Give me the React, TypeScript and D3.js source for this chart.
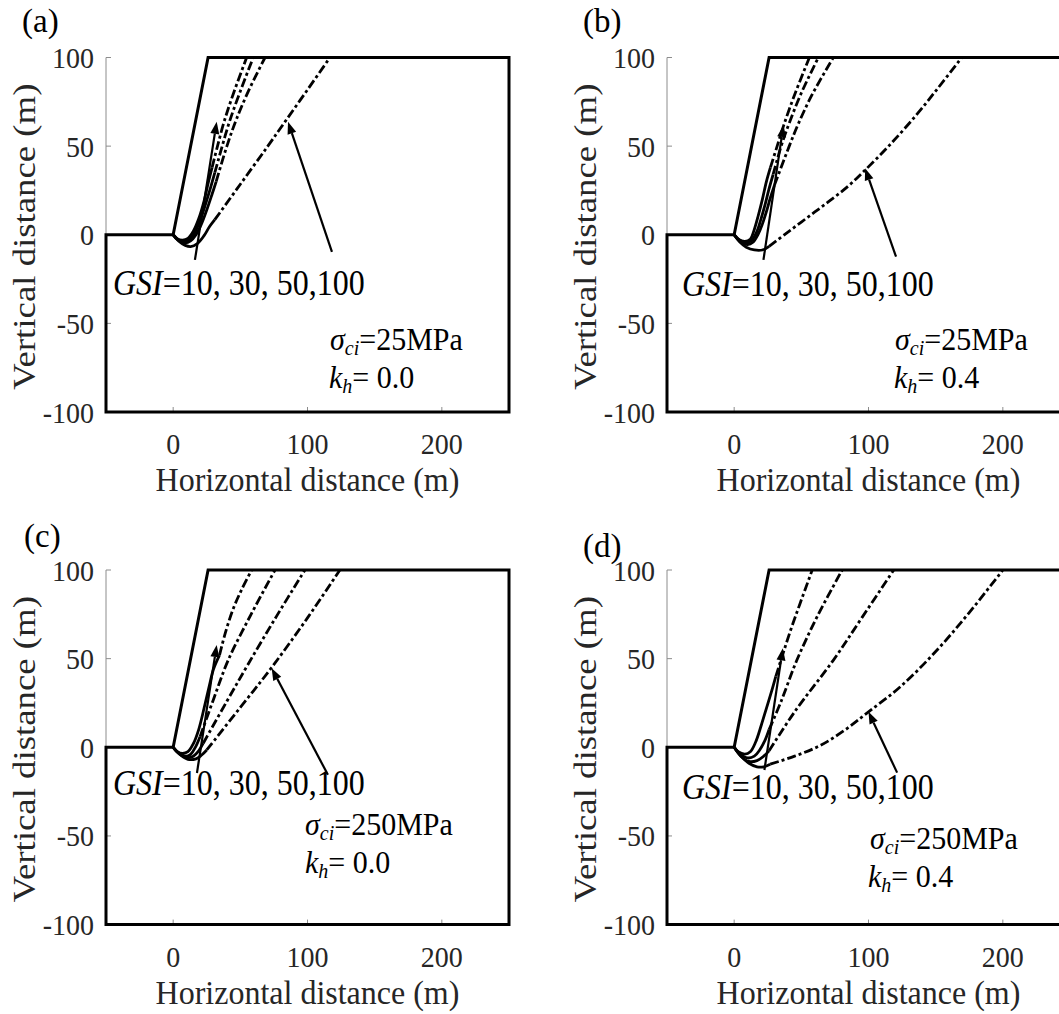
import React from 'react';
import * as d3 from 'd3';

const W = 1059, H = 1014;
const xTicks = [0, 100, 200];
const yTicks = [-100, -50, 0, 50, 100];
const xDomain = [-50, 250];
const yDomain = [-100, 100];
const gsiValues = [10, 30, 50, 100];
const panelLabels = ['(a)', '(b)', '(c)', '(d)'];
const sigmaCi = [25, 25, 250, 250];
const khValues = ['0.0', '0.4', '0.0', '0.4'];
const groundProfile: [number, number][] = [[-50, -100], [-50, 0], [0, 0], [26, 100], [250, 100], [250, -100]];

// failure surfaces for GSI = 10, 30, 50, 100: solid lower part and dash-dot upper part
const solidA = [
  [[0, 0], [3, -2.2], [7, -3], [11, -2], [15, 2], [19, 9], [23, 19], [26, 29], [29, 38]],
  [[0, 0], [3, -2.6], [8, -3.8], [12, -2.8], [16, 1], [20, 8], [24, 17], [28, 27], [31, 35]],
  [[0, 0], [4, -3], [9, -4.6], [13, -3.5], [17, 0], [21, 6], [25, 14], [29, 23], [32, 30]],
  [[0, 0], [4, -3.5], [9, -6], [13, -6.7], [18, -5], [23, -0.5], [27, 4.5], [31, 8.5]],
];
const dashA = [
  [[29, 38], [33, 50], [38, 64], [45, 80], [54.7, 100]],
  [[31, 35], [36.5, 50], [42, 64], [50, 81], [59.6, 100]],
  [[32, 30], [40, 50], [47, 65], [56, 81], [68.4, 100]],
  [[31, 8.5], [50, 28.5], [70, 49.5], [83.3, 63.8], [100, 81.8], [116.7, 100]],
];
const solidB = [
  [[0, 0], [3, -2.5], [8, -3.8], [12, -2.5], [15, 3], [18, 11], [21, 20], [24, 30], [27, 38]],
  [[0, 0], [4, -3], [9, -4.5], [13, -3.2], [17, 2], [20, 9], [23, 17], [26, 26], [29, 34]],
  [[0, 0], [4, -3.3], [10, -5.5], [14, -4.2], [18, 0.5], [21, 6], [24, 13], [27, 21], [30, 28]],
  [[0, 0], [4, -4], [9, -7], [15, -8.6], [21, -8.6], [26, -6.5]],
];
const dashB = [
  [[27, 38], [32, 50], [37, 62], [45, 79], [56, 100]],
  [[29, 34], [35, 50], [41, 63], [50, 80], [62.7, 100]],
  [[30, 28], [41, 50], [48, 63], [58, 79], [73.8, 100]],
  [[26, -6.5], [40, 1.5], [55, 10], [70, 18.5], [85, 27.5], [97.5, 36.5], [115, 50], [135, 67], [152, 83], [169.4, 100]],
];
const solidC = [
  [[0, 0], [3, -2.5], [7, -3.5], [11, -2.5], [15, 2], [19, 10], [23, 22], [27, 35], [30, 44], [34.5, 52]],
  [[0, 0], [4, -3], [9, -5], [13, -4], [16.5, 0], [20, 6]],
  [[0, 0], [4, -3.3], [10, -5.8], [15, -5], [19, -2], [22.4, 2.3]],
  [[0, 0], [5, -4], [11, -6.8], [17, -6.5], [21, -4.5], [25, -1.5]],
];
const dashC = [
  [[34.5, 52], [39, 65], [44.8, 78.3], [51, 89], [58.4, 100]],
  [[20, 6], [30, 27], [41, 49.2], [58, 75], [75.8, 100]],
  [[22.4, 2.3], [40, 26], [55.9, 47], [77, 74], [98.1, 100]],
  [[25, -1.5], [50, 22.5], [73.3, 45], [100, 73], [124.1, 100]],
];
const solidD = [
  [[0, 0], [3, -2.5], [8, -3.8], [12, -2.5], [16, 3], [20, 12], [24, 22], [28, 32], [31, 40]],
  [[0, 0], [4, -3.5], [10, -6], [15, -5], [19, -1.5], [23, 4], [26, 10]],
  [[0, 0], [5, -5], [11, -8], [17, -7.5], [22, -5], [26, -2]],
  [[0, 0], [5, -5], [11, -9], [17, -11], [22, -11], [26.8, -9.5]],
];
const dashD = [
  [[31, 40], [36, 52], [42, 66], [49, 81], [58.1, 100]],
  [[26, 10], [35, 26], [46.7, 49.2], [62, 74], [80.4, 100]],
  [[26, -2], [45, 20], [73.9, 49.2], [95, 73], [118.8, 100]],
  [[26.8, -9.5], [45, -5], [64, 1], [82, 9.5], [100, 20], [123.5, 34], [150, 54], [175, 76], [200, 100]],
];
// annotation arrows: [tailX, tailY, tipX, tipY] in data units
const arrowsA = [[16.2, -14.2, 32.4, 63.7], [118.2, -9.7, 85.5, 63.7]];
const arrowsB = [[21.8, -14.2, 36.7, 61.9], [120.5, -12.4, 97.5, 37.5]];
const arrowsC = [[17.7, -14.5, 32.4, 57.7], [115.2, -15.5, 73.3, 44.6]];
const arrowsD = [[22.5, -12.8, 36.2, 55.8], [121.3, -14.3, 100, 20]];

const solids = [solidA, solidB, solidC, solidD];
const dashes = [dashA, dashB, dashC, dashD];
const arrows = [arrowsA, arrowsB, arrowsC, arrowsD];

const FONT = "'Liberation Serif', 'Times New Roman', Times, serif";

const layouts = [
  { left: 106, top: 57.5, bottom: 412, lab: [22, 32], gsi: [7, 237.5], sig: [224, 292], kh: [223, 330] },
  { left: 667, top: 57.5, bottom: 412, lab: [583, 32], gsi: [15, 238.5], sig: [228, 292], kh: [227, 330] },
  { left: 106, top: 570, bottom: 924.6, lab: [24, 547], gsi: [7, 225], sig: [199, 265], kh: [199, 303] },
  { left: 667, top: 570, bottom: 924.6, lab: [583, 557], gsi: [15, 229], sig: [203, 279], kh: [201, 317] },
];
const PANEL_W = 403;

function T({ x, y, size, anchor = 'start', k = 1.12, fill = '#000', rotate = 0, children }: any) {
  const tr = rotate ? `translate(${x},${y}) rotate(${rotate}) scale(${k},1)` : `translate(${x},${y}) scale(1,${k})`;
  return (
    <text transform={tr} fontSize={size} textAnchor={anchor} fill={fill} fontFamily={FONT}>
      {children}
    </text>
  );
}

function Panel({ i }: { i: number }) {
  const L = layouts[i];
  const x = d3.scaleLinear().domain(xDomain).range([L.left, L.left + PANEL_W]);
  const y = d3.scaleLinear().domain(yDomain).range([L.bottom, L.top]);
  const line = d3.line<number[]>().x(d => x(d[0])).y(d => y(d[1])).curve(d3.curveCatmullRom.alpha(0.5));
  const ground = d3.line<[number, number]>().x(d => x(d[0])).y(d => y(d[1]));
  const axisGray = '#8c8c8c';
  const labGray = '#262626';
  return (
    <g>
      {/* axes */}
      <line x1={x(-50)} x2={x(-50)} y1={y(-100)} y2={y(100)} stroke={axisGray} strokeWidth={1} />
      {yTicks.map(t => (
        <g key={'y' + t}>
          <line x1={x(-50)} x2={x(-50) + 5} y1={y(t)} y2={y(t)} stroke={axisGray} strokeWidth={1} />
          <T x={x(-50) - 12} y={y(t) + 10.5} size={28} anchor="end" fill={labGray} k={1.08}>{t}</T>
        </g>
      ))}
      {xTicks.map(t => (
        <g key={'x' + t}>
          <line x1={x(t)} x2={x(t)} y1={y(-100)} y2={y(-100) - 5} stroke={axisGray} strokeWidth={1} />
          <T x={x(t)} y={y(-100) + 42} size={28} anchor="middle" fill={labGray} k={1.05}>{t}</T>
        </g>
      ))}
      <T x={(x(-50) + x(250)) / 2} y={y(-100) + 79} size={32} anchor="middle" fill={labGray} k={1.05}>Horizontal distance (m)</T>
      <T x={x(-50) - 71} y={(y(-100) + y(100)) / 2 + 2} size={32} anchor="middle" fill={labGray} rotate={-90} k={1.15}>Vertical distance (m)</T>
      {/* ground */}
      <path d={ground(groundProfile)! + 'Z'} fill="none" stroke="#000" strokeWidth={3} strokeLinejoin="miter" />
      {/* failure surfaces */}
      {gsiValues.map((g, j) => (
        <g key={'c' + g}>
          <path d={line(solids[i][j] as number[][])!} fill="none" stroke="#000" strokeWidth={2.8} />
          <path d={line(dashes[i][j] as number[][])!} fill="none" stroke="#000" strokeWidth={2.8} strokeDasharray="9 3 3 3" />
        </g>
      ))}
      {/* arrows */}
      {arrows[i].map((a, j) => {
        const x1 = x(a[0]), y1 = y(a[1]), x2 = x(a[2]), y2 = y(a[3]);
        const ang = Math.atan2(y2 - y1, x2 - x1);
        const len = 12, hw = 4.5;
        const bx = x2 - len * Math.cos(ang), by = y2 - len * Math.sin(ang);
        const px = -Math.sin(ang) * hw, py = Math.cos(ang) * hw;
        return (
          <g key={'a' + j}>
            <line x1={x1} y1={y1} x2={bx} y2={by} stroke="#000" strokeWidth={2.2} />
            <polygon points={`${x2},${y2} ${bx + px},${by + py} ${bx - px},${by - py}`} fill="#000" />
          </g>
        );
      })}
      {/* annotations */}
      <T x={L.left + L.gsi[0]} y={L.top + L.gsi[1]} size={32}>
        <tspan fontStyle="italic">GSI</tspan>={gsiValues[0]}, {gsiValues[1]}, {gsiValues[2]},{gsiValues[3]}
      </T>
      <T x={L.left + L.sig[0]} y={L.top + L.sig[1]} size={30} k={1.05}>
        <tspan fontStyle="italic">σ</tspan><tspan fontStyle="italic" fontSize={20} dy={5}>ci</tspan><tspan dy={-5}>={sigmaCi[i]}MPa</tspan>
      </T>
      <T x={L.left + L.kh[0]} y={L.top + L.kh[1]} size={30} k={1.05}>
        <tspan fontStyle="italic">k</tspan><tspan fontStyle="italic" fontSize={20} dy={5}>h</tspan><tspan dy={-5}>= {khValues[i]}</tspan>
      </T>
      <T x={L.lab[0]} y={L.lab[1]} size={33} k={1.0}>{panelLabels[i]}</T>
    </g>
  );
}

export default function App() {
  return (
    <svg width={W} height={H} viewBox={`0 0 ${W} ${H}`} style={{ position: 'absolute', left: 0, top: 0, background: '#fff' }}>
      <rect x={0} y={0} width={W} height={H} fill="#fff" />
      {[0, 1, 2, 3].map(i => <Panel key={i} i={i} />)}
    </svg>
  );
}
